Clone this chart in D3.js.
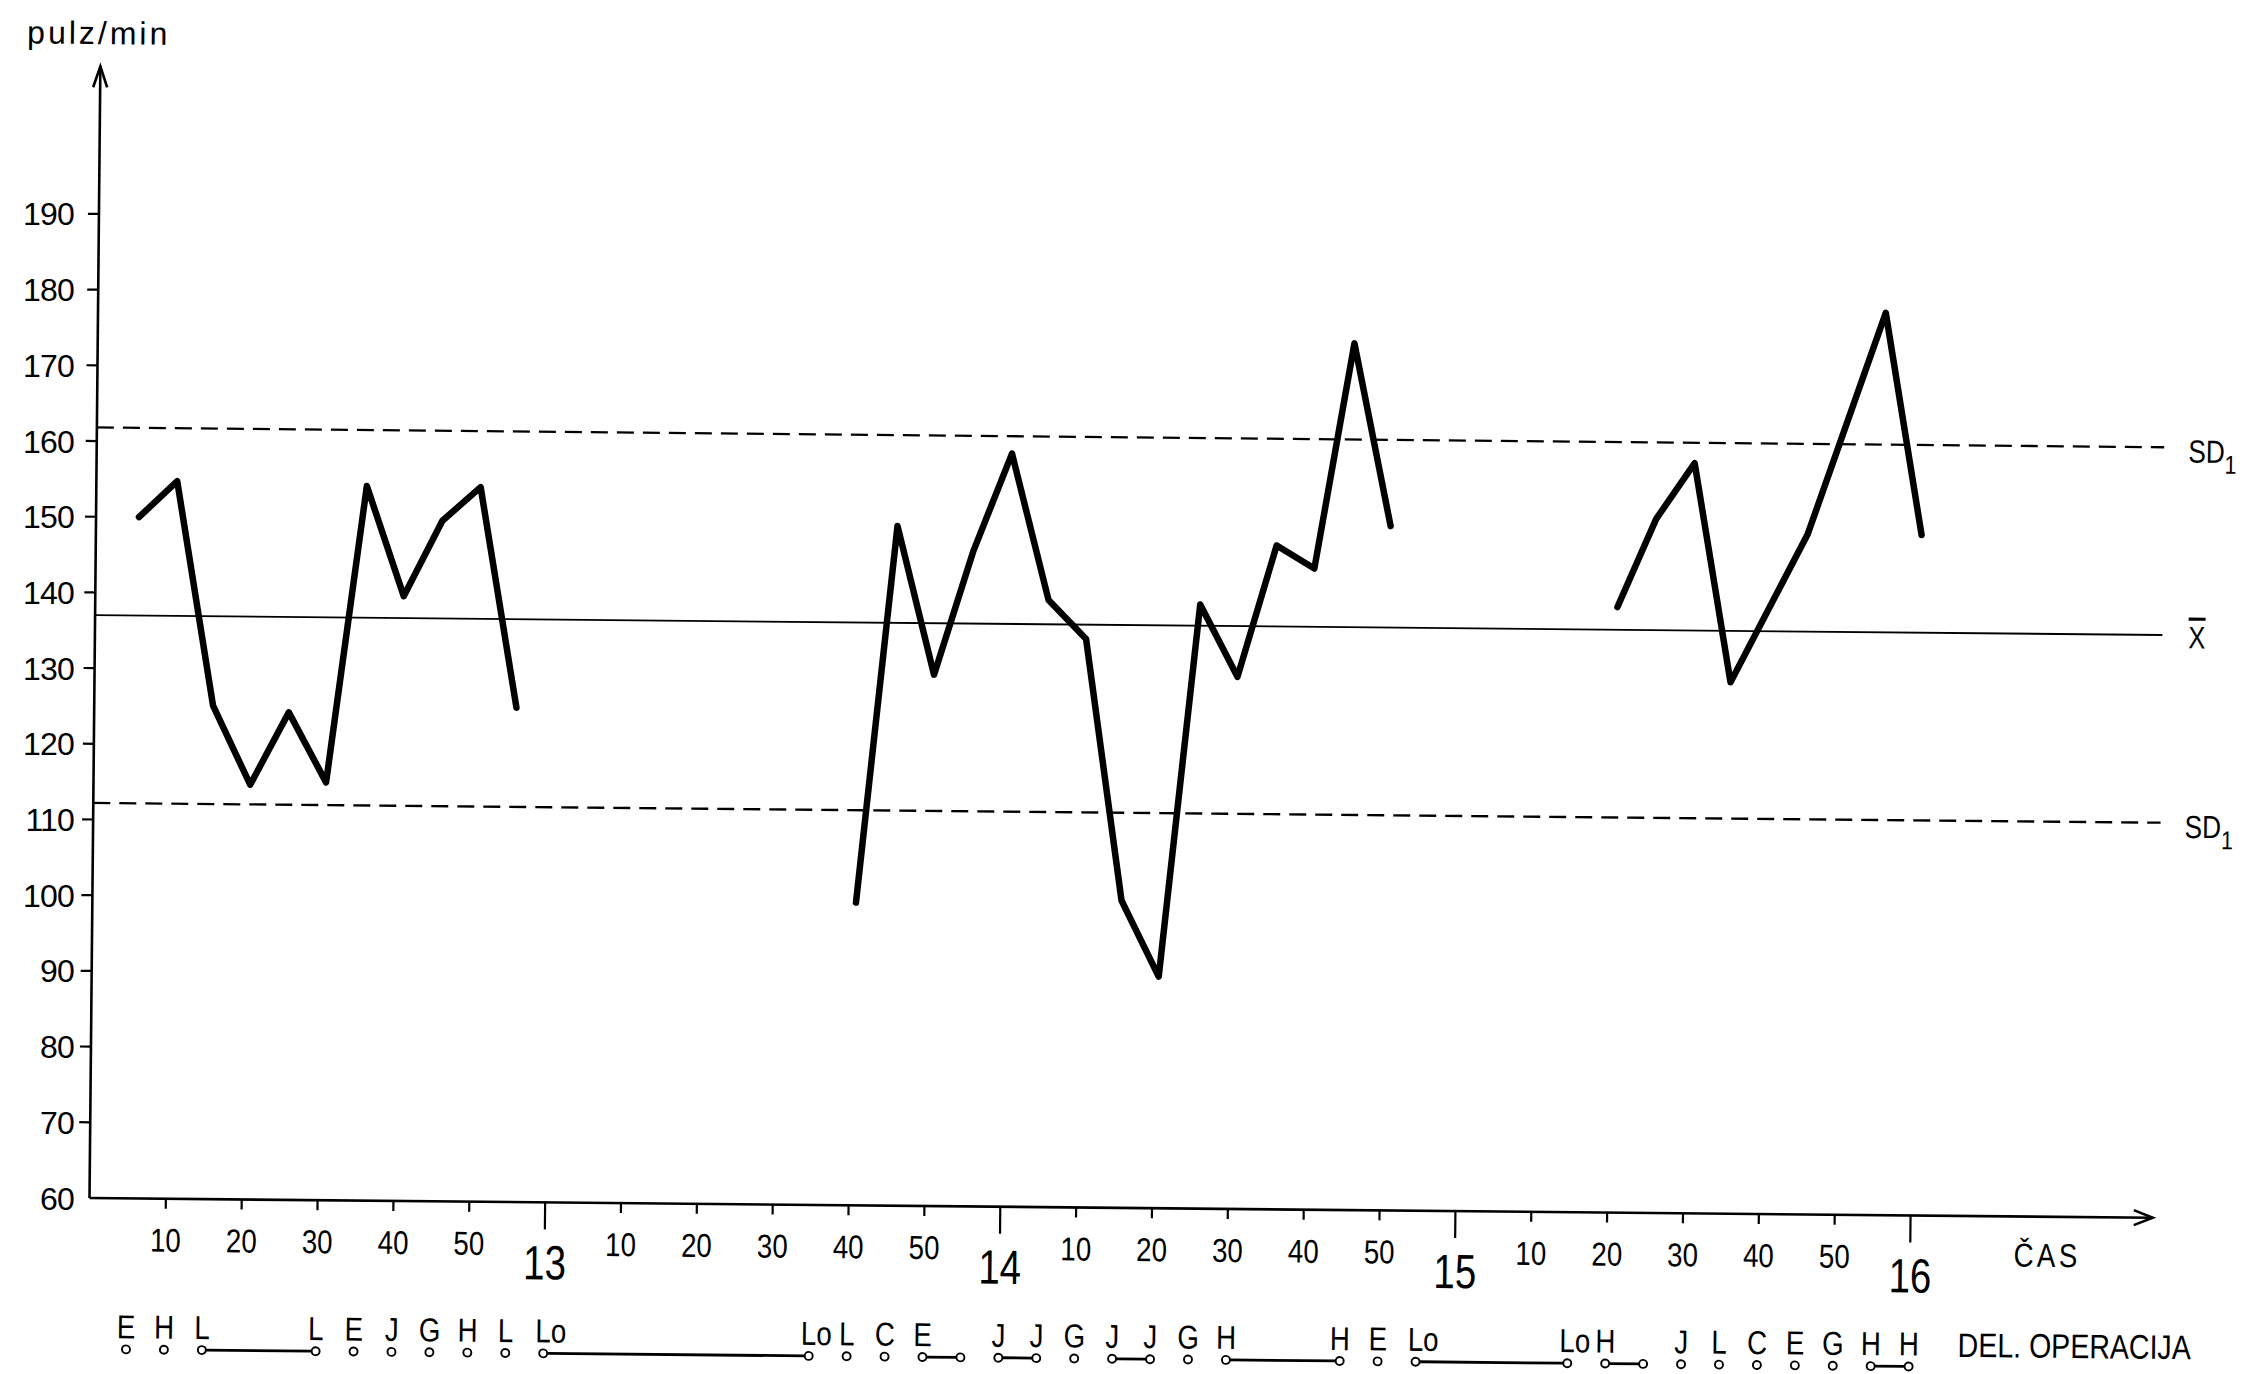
<!DOCTYPE html>
<html><head><meta charset="utf-8">
<script src="https://cdn.jsdelivr.net/npm/d3@7"></script>
<style>
html,body{margin:0;padding:0;background:#fff;}
svg{display:block;background:#fff;}
</style></head>
<body>
<svg id="chart" width="2255" height="1374"></svg>
<script>
// ---------------- data ----------------
const yTickValues = [60,70,80,90,100,110,120,130,140,150,160,170,180,190];
const times1 = ["12:05","12:10","12:15","12:20","12:25","12:30","12:35","12:40","12:45","12:50","12:55"];
const pulse1 = [150,154.8,125.2,114.8,124.4,115.2,154.4,139.9,149.9,154.4,125.3];
const times2 = ["13:40","13:45","13:50","13:55","14:00","14:05","14:10","14:15","14:20","14:25","14:30","14:35","14:40","14:45","14:50"];
const pulse2 = [100,149.8,130.2,146.5,159.5,140.2,135.1,100.6,90.6,139.8,130.3,147.7,144.7,174.5,150.4];
const times3 = ["15:20","15:25","15:30","15:35","15:45","15:55","16:00"];
const pulse3 = [140,151.7,159.1,130.2,149.9,179.2,149.9];
const meanPulse = 137.0;
const sdPulse = 24.8;
const opTimes = ["12:05","12:10","12:15","12:30","12:35","12:40","12:45","12:50","12:55","13:00","13:35",
                 "13:40","13:45","13:50","13:55","14:00","14:05","14:10","14:15","14:20","14:25","14:30","14:45",
                 "14:50","14:55","15:15","15:20","15:25","15:30","15:35","15:40","15:45","15:50","15:55","16:00"];
const opLabels = ["E","H","L","L","E","J","G","H","L","Lo","Lo",
                  "L","C","E","","J","J","G","J","J","G","H","H",
                  "E","Lo","Lo","H","","J","L","C","E","G","H","H"];
const opLinks = [[2,3],[9,10],[13,14],[15,16],[18,19],[21,22],[24,25],[26,27],[33,34]];
const xStart = "12:00", xEnd = "16:32";
const yAxisTop = 209.5;
const yLabel = "pulz/min", xLabel = "ČAS", opTitle = "DEL. OPERACIJA";

// ---------------- layout ----------------
const SANS = '"Liberation Sans",Arial,sans-serif';
const SQ = 0.84;                // horizontal squeeze for the condensed lettering
const OX = 89.5, OY = 1198, ANGLE = 0.55;
const parse = d3.timeParse("%H:%M");
const svg = d3.select("#chart");

const x = d3.scaleTime().domain([parse(xStart), parse(xEnd)]).range([OX, OX + 272*7.586]);
const y = d3.scaleLinear().domain([60,190]).range([OY, OY - 130*7.57]);

const g = svg.append("g").attr("transform", `rotate(${ANGLE},${OX},${OY})`);

// condensed text helper
function condText(parent, px, py, size, sq) {
  const s = sq || SQ;
  return parent.append("text").attr("x", px / s).attr("y", py)
    .attr("transform", `scale(${s},1)`)
    .attr("font-family", SANS).attr("font-size", size).attr("fill", "#000");
}

// reference lines
const refEnd = x.range()[1] + 4;
const refs = [
  {v: meanPulse + sdPulse, dash: "17,9", lab: "SD"},
  {v: meanPulse, dash: null, lab: "X"},
  {v: meanPulse - sdPulse, dash: "17,9", lab: "SD"}
];
refs.forEach(r => {
  g.append("line").attr("x1", OX).attr("x2", refEnd)
    .attr("y1", y(r.v)).attr("y2", y(r.v))
    .attr("stroke", "#000").attr("stroke-width", r.dash ? 2.3 : 1.8)
    .attr("stroke-dasharray", r.dash);
  if (r.lab === "SD") {
    const t = condText(g, 2181, y(r.v) + 15, 32, 0.82);
    t.append("tspan").text("SD");
    t.append("tspan").attr("font-size", 26).attr("dy", 11).text("1");
  } else {
    condText(g, 2183, y(r.v) + 13, 31, 0.82).attr("text-decoration", "overline").text("X");
  }
});

// axes lines with arrows
const xTip = x.range()[1];
g.append("line").attr("x1", OX).attr("x2", xTip).attr("y1", OY).attr("y2", OY)
  .attr("stroke", "#000").attr("stroke-width", 2.6);
g.append("path").attr("d", `M${xTip-19},${OY-7.5}L${xTip},${OY}L${xTip-19},${OY+7.5}`)
  .attr("fill", "none").attr("stroke", "#000").attr("stroke-width", 2.6);
const yTip = y(yAxisTop);
g.append("line").attr("x1", OX).attr("x2", OX).attr("y1", OY).attr("y2", yTip)
  .attr("stroke", "#000").attr("stroke-width", 2.6);
g.append("path").attr("d", `M${OX-7},${yTip+21}L${OX},${yTip}L${OX+7},${yTip+21}`)
  .attr("fill", "none").attr("stroke", "#000").attr("stroke-width", 2.6);

// y ticks
g.selectAll(".ytick").data(yTickValues.filter(v => v > 60)).join("line")
  .attr("x1", OX - 11).attr("x2", OX).attr("y1", d => y(d)).attr("y2", d => y(d))
  .attr("stroke", "#000").attr("stroke-width", 2.2);

// y tick labels (hand lettered, aligned vertically in the scan)
svg.append("g").selectAll("text").data(yTickValues).join("text")
  .attr("x", 74).attr("y", d => y(d)).attr("dy", "0.36em")
  .attr("text-anchor", "end").attr("font-family", SANS).attr("font-size", 32)
  .attr("letter-spacing", -0.8).attr("fill", "#000").text(d => d);

// y label
g.append("text").attr("x", 16).attr("y", 44).attr("font-family", SANS)
  .attr("font-size", 32).attr("letter-spacing", 3).attr("fill", "#000").text(yLabel);

// x axis ticks + labels
const xTicks = d3.timeMinute.every(10).range(parse("12:10"), parse("16:01"));
const isHour = d => d.getMinutes() === 0;
const gx = g.append("g").attr("transform", `translate(0,${OY})`)
  .call(d3.axisBottom(x).tickValues(xTicks).tickSize(10)
    .tickFormat(d => isHour(d) ? d.getHours() : d.getMinutes()));
gx.select(".domain").remove();
gx.selectAll(".tick line").attr("stroke", "#000").attr("stroke-width", 2.2)
  .attr("y2", d => isHour(d) ? 27 : 10);
gx.selectAll(".tick text").attr("fill", "#000").attr("font-family", SANS)
  .attr("transform", d => `scale(${isHour(d) ? 0.8 : SQ},1)`)
  .attr("font-size", d => isHour(d) ? 48 : 33)
  .attr("y", d => isHour(d) ? 77 : 53).attr("dy", 0);

condText(g, 2014, OY + 50, 33).attr("letter-spacing", 4).text(xLabel);

// pulse line
const line = d3.line().x(d => x(d.t)).y(d => y(d.v));
const segs = [[times1, pulse1], [times2, pulse2], [times3, pulse3]];
const gl = g.append("g").attr("transform", "translate(5,0)");
segs.forEach(([ts, vs]) => {
  const pts = ts.map((t, i) => ({t: parse(t), v: vs[i]}));
  gl.append("path").attr("d", line(pts)).attr("fill", "none")
    .attr("stroke", "#000").attr("stroke-width", 6.5)
    .attr("stroke-linejoin", "round").attr("stroke-linecap", "round");
});

// operations row
const opCY = OY + 151, opTY = OY + 140, R = 4;
const go = g.append("g");
opLinks.forEach(([a, b]) => {
  go.append("line").attr("x1", x(parse(opTimes[a])) + R).attr("x2", x(parse(opTimes[b])) - R)
    .attr("y1", opCY).attr("y2", opCY).attr("stroke", "#000").attr("stroke-width", 2.8);
});
go.selectAll("circle").data(opTimes).join("circle")
  .attr("cx", d => x(parse(d))).attr("cy", opCY).attr("r", R)
  .attr("fill", "#fff").attr("stroke", "#000").attr("stroke-width", 1.9);
go.selectAll("text").data(opTimes).join("text")
  .attr("x", (d, i) => (opLabels[i] === "Lo" ? x(parse(d)) - 8 : x(parse(d))) / SQ)
  .attr("y", opTY).attr("transform", `scale(${SQ},1)`)
  .attr("text-anchor", (d, i) => opLabels[i] === "Lo" ? "start" : "middle")
  .attr("font-family", SANS).attr("font-size", 33).attr("fill", "#000")
  .text((d, i) => opLabels[i]);
condText(g, 1959, opTY + 1, 34).text(opTitle);
</script>
</body></html>
